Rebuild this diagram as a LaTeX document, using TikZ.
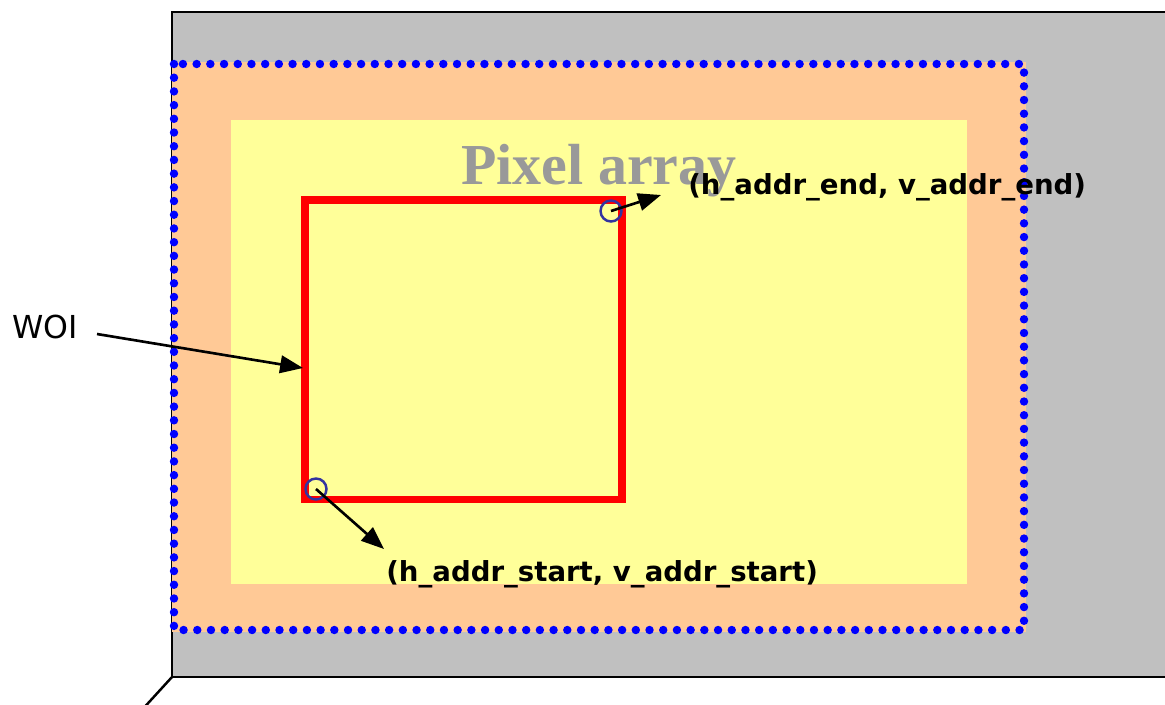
\documentclass[tikz,border=0pt]{standalone}
\usepackage{fontspec}
\setmainfont{DejaVu Sans}
\newfontfamily\titlefont{Liberation Serif}
\usetikzlibrary{arrows.meta}
\definecolor{diegray}{HTML}{C0C0C0}
\definecolor{peach}{HTML}{FFC996}
\definecolor{paleyellow}{HTML}{FFFF99}
\definecolor{dotblue}{HTML}{0000FF}
\definecolor{ringblue}{HTML}{3333A0}
\definecolor{titlegray}{HTML}{999999}
\tikzset{
  ptr/.style={-{Triangle[length=13pt,width=10pt]}, line width=1.5pt, black},
  ring/.style={circle, draw=ringblue, line width=1.4pt, minimum size=0.42cm, inner sep=0pt},
  addr/.style={font=\fontsize{15.7}{18}\selectfont\bfseries, inner sep=0pt, anchor=west},
}
\begin{document}
\begin{tikzpicture}[x=0.02cm,y=-0.02cm]
\useasboundingbox (0,0) rectangle (1165,704);
\clip (0,0) rectangle (1165,704);
% die outline and its receding edge
\draw[line width=1.4pt, fill=diegray] (1200,12) -- (172,12) -- (172,677) -- (1200,677);
\draw[line width=1.4pt] (172,677) -- (140,712);
% active area with its dotted outline
\fill[peach] (172,62) rectangle (1026,632);
\fill[paleyellow] (231,120) rectangle (967,584);
\draw[dotblue, line width=4.8pt, line cap=round, dash pattern=on 0pt off 7.8pt]
  (174,64) rectangle (1024,630);
% window of interest
\node[draw=red, line width=4pt, minimum width=317*0.02cm, minimum height=299*0.02cm,
      inner sep=0pt] (woi) at (463.5,349.5) {};
\node[font=\titlefont\fontsize{33}{36}\selectfont\bfseries, text=titlegray] (title) at (599,171) {Pixel array};
% corner markers
\node[ring] (endring) at (611,211) {};
\node[ring] (startring) at (316,489) {};
\coordinate (endtip) at (661,195);
\coordinate (starttip) at (384,549);
\coordinate (woitail) at (97,334);
\coordinate (woitip) at (303,368);
\draw[ptr] (endring.center) -- (endtip);
\draw[ptr] (startring.center) -- (starttip);
\draw[ptr] (woitail) -- (woitip);
% labels
\node[addr] (endlabel) at (688,187) {(h\_addr\_end, v\_addr\_end)};
\node[addr] (startlabel) at (386,574) {(h\_addr\_start, v\_addr\_start)};
\node[font=\fontsize{18}{21}\selectfont, inner sep=0pt, anchor=west] (woilabel) at (12,327) {WOI};
\end{tikzpicture}
\end{document}
